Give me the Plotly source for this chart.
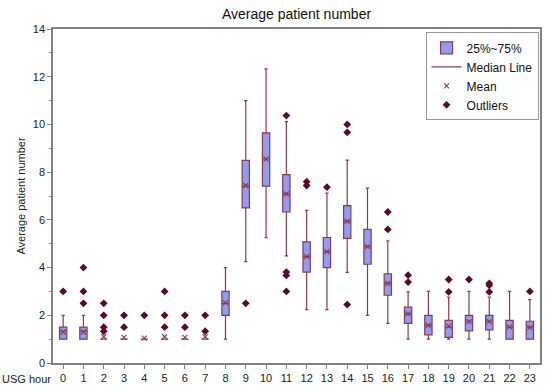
import plotly.graph_objects as go

hours = list(range(24))
q1 =      [1.0, 1.0, 1, 1, 1, 1, 1, 1, 2.0, 6.5, 7.41, 6.33, 3.81, 4.0, 5.22, 4.14, 2.84, 1.66, 1.18, 1.07, 1.35, 1.39, 1.0, 1.0]
median =  [1.33, 1.33, 1, 1, 1, 1, 1, 1, 2.5, 7.41, 8.55, 7.09, 4.46, 4.67, 5.94, 4.88, 3.35, 2.06, 1.58, 1.5, 1.75, 1.75, 1.5, 1.5]
q3 =      [1.5, 1.5, 1, 1, 1, 1, 1, 1, 3.0, 8.49, 9.65, 7.9, 5.08, 5.26, 6.6, 5.6, 3.74, 2.34, 2.0, 1.79, 2.0, 2.0, 1.79, 1.75]
lower =   [1.0, 1.0, 1, 1, 1, 1, 1, 1, 1.0, 4.25, 5.25, 4.49, 2.24, 2.24, 3.8, 2.0, 1.66, 1.0, 1.0, 1.0, 1.0, 1.0, 1.0, 1.0]
upper =   [2.0, 2.0, 1, 1, 1, 1, 1, 1, 4.0, 11.0, 12.33, 10.12, 6.4, 7.12, 8.5, 7.33, 5.12, 2.98, 3.0, 2.76, 3.0, 2.76, 3.0, 2.66]
mean =    [1.3, 1.3, 1.1, 1.07, 1.04, 1.1, 1.07, 1.1, 2.52, 7.44, 8.55, 7.09, 4.46, 4.67, 5.94, 4.88, 3.34, 2.06, 1.58, 1.55, 1.73, 1.73, 1.51, 1.48]

outlier_hours = [0, 1, 1, 1, 2, 2, 2, 2, 3, 3, 4, 5, 5, 5, 6, 6, 7, 7, 9,
                 11, 11, 11, 11, 12, 12, 13, 14, 14, 14, 16, 16, 17, 17,
                 19, 19, 20, 21, 21, 21, 23]
outlier_vals = [3.0, 2.5, 3.0, 4.0, 1.33, 1.5, 2.0, 2.5, 1.5, 2.0, 2.0, 1.5, 2.0, 3.0, 1.5, 2.0, 1.33, 2.0, 2.5,
                10.37, 3.0, 3.67, 3.81, 7.44, 7.6, 7.37, 2.45, 9.67, 10.0, 5.6, 6.33, 3.39, 3.68,
                2.98, 3.5, 3.5, 2.98, 3.26, 3.34, 3.0]

edge = "#8b3a4e"
fill = "#8f9bf5"
dark = "#5c0a1e"
FONT = "Liberation Sans, Arial"

fig = go.Figure()
fig.add_trace(go.Box(
    x=hours, q1=q1, median=median, q3=q3, lowerfence=lower, upperfence=upper,
    boxpoints=False, width=0.36, whiskerwidth=0.45,
    fillcolor=fill, line=dict(color=edge, width=1.2),
    name="25%~75%", showlegend=True,
))
fig.add_trace(go.Scatter(
    x=[None], y=[None], mode="lines", line=dict(color=edge, width=1.2),
    name="Median Line",
))
fig.add_trace(go.Scatter(
    x=hours, y=mean, mode="markers",
    marker=dict(symbol="x-thin", size=5, line=dict(color=edge, width=1.1), color=edge),
    name="Mean",
))
fig.add_trace(go.Scatter(
    x=outlier_hours, y=outlier_vals, mode="markers",
    marker=dict(symbol="diamond", size=6, color=dark),
    name="Outliers",
))

axis_common = dict(showline=True, linecolor="#808080", linewidth=1.5, mirror=True,
                   ticks="outside", tickcolor="#808080", ticklen=4, showgrid=False,
                   zeroline=False, tickfont=dict(family=FONT, size=11, color="#222"))

fig.update_xaxes(range=[-0.5, 23.5], tickmode="array", tickvals=hours,
                 ticktext=[str(h) for h in hours], **axis_common)
fig.update_yaxes(range=[0, 14], dtick=2,
                 minor=dict(dtick=1, ticks="outside", ticklen=2, tickcolor="#808080"),
                 title=dict(text="Average patient number", font=dict(size=11, family=FONT, color="#222"), standoff=5),
                 **axis_common)

fig.add_annotation(text="USG hour", xref="paper", yref="paper", x=-0.054, y=-0.025,
                   xanchor="center", yanchor="top", showarrow=False,
                   font=dict(family=FONT, size=11, color="#222"))

fig.update_layout(
    width=550, height=392,
    margin=dict(l=53, r=8, t=29, b=26),
    paper_bgcolor="white", plot_bgcolor="white",
    title=dict(text="Average patient number", x=0.5, xref="paper", y=0.965, yanchor="middle",
               font=dict(family=FONT, size=14, color="#111")),
    legend=dict(x=0.765, y=0.99, xanchor="left", yanchor="top",
                bgcolor="white", bordercolor="#999", borderwidth=1,
                font=dict(family=FONT, size=12, color="#111"),
                tracegroupgap=0, itemwidth=30),
    showlegend=True,
)

fig.write_html("out.html", config={"displayModeBar": False},
               post_script="document.body.style.margin='0';document.body.style.padding='0';")
